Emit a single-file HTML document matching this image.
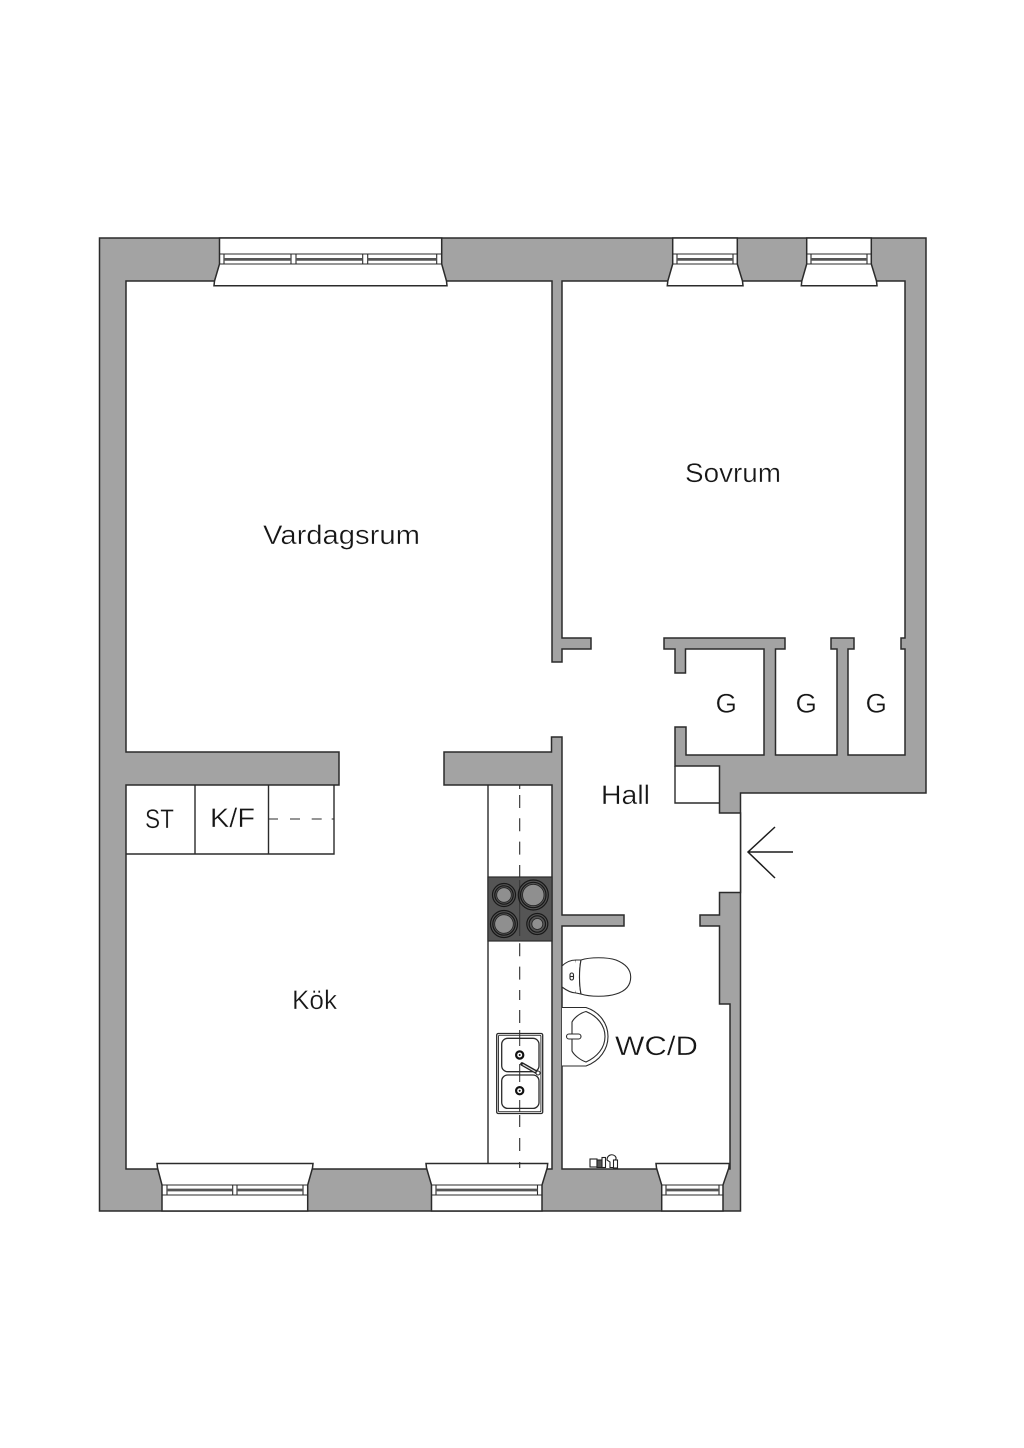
<!DOCTYPE html>
<html><head><meta charset="utf-8"><style>
html,body{margin:0;padding:0;background:#fff}
svg{display:block}
text{font-family:"Liberation Sans",sans-serif;font-size:27px;fill:#161616;stroke:#fff;stroke-width:.35;paint-order:normal}
</style></head><body>
<svg width="1024" height="1448" viewBox="0 0 1024 1448" xmlns="http://www.w3.org/2000/svg">
<rect width="1024" height="1448" fill="#fff"/>
<g stroke="#2b2b2b" stroke-width="1.5" stroke-linejoin="miter">
<path fill="#a3a3a3" d="M99.5 238H926V793H740.5V1211H99.5Z"/>
<path fill="#fff" d="M126 281H552V662H562V649H591V638H562V281H905V638H901V649H905V755H848V649H854V638H831V649H837V755H775.5V649H785V638H664V649H675V673H685.5V649H764V755H686V727H675V766H719.5V813H740.5V892.5H719.5V915H700V926H719.5V1004H730V1169H562V926H624V915H562V737H551.5V752H444V785H552V1169H126V785H339V752H126Z"/>
</g>
<!-- cabinets -->
<g fill="none" stroke="#2b2b2b" stroke-width="1.4">
<path d="M126 854H334V785M195 785V854M268.5 785V854"/>
<path d="M488 785V1165"/>
<path d="M675 766V803H719.5"/>
<path d="M268 819H278M290 819H300M311.7 819H321.7M331.7 819H334" stroke-width="1.1"/>
<path stroke-width="1.1" d="M519.7 785V789M519.7 795V808M519.7 818.3V831.3M519.7 841.6V854.6M519.7 865V877M519.7 943.3V956.3M519.7 966.6V979.6M519.7 990V1000M519.7 1010V1023M519.7 1115V1127M519.7 1138V1151"/>
</g>
<!-- stove -->
<rect x="488" y="877" width="64" height="64" fill="#555" stroke="#2b2b2b" stroke-width="1.2"/>
<path d="M519.7 880V936" stroke="#333" stroke-width="1"/>
<g fill="none" stroke="#181818" stroke-width="1.2">
<circle cx="504" cy="895" r="11.5"/><circle cx="504" cy="895" r="9.2"/>
<circle cx="533.3" cy="895" r="15"/><circle cx="533.3" cy="895" r="12.7"/>
<circle cx="504" cy="924" r="13.5"/><circle cx="504" cy="924" r="11.2"/>
<circle cx="537.3" cy="924" r="10.5"/><circle cx="537.3" cy="924" r="8.2"/>
</g>
<g fill="#8f8f8f" stroke="#222" stroke-width=".8">
<circle cx="504" cy="895" r="7.3"/>
<circle cx="533.3" cy="895" r="10.7"/>
<circle cx="504" cy="924" r="9.3"/>
<circle cx="537.3" cy="924" r="5.5"/>
</g>
<!-- sink -->
<g fill="#fff" stroke="#2b2b2b" stroke-width="1.3">
<rect x="496.7" y="1033.5" width="46" height="80" rx="1.5"/>
<rect x="498.5" y="1035.3" width="42.4" height="76.4" rx="1" stroke-width=".9"/>
<rect x="501.7" y="1038.3" width="37.3" height="33.4" rx="6"/>
<rect x="501.7" y="1075" width="37.3" height="33.4" rx="6"/>
</g>
<path d="M519.7 1030V1046M519.7 1064V1082M519.7 1100V1112" stroke="#2b2b2b" stroke-width="1" fill="none"/>
<g fill="#fff" stroke="#111" stroke-width="2.2"><circle cx="519.7" cy="1055" r="3.6"/><circle cx="519.7" cy="1090.7" r="3.6"/></g>
<circle cx="519.7" cy="1055" r="1" fill="#111"/><circle cx="519.7" cy="1090.7" r="1" fill="#111"/>
<path d="M522 1064L537 1072.5" stroke="#222" stroke-width="3.6" stroke-linecap="round"/>
<path d="M523 1064.600L535 1071.500" stroke="#ddd" stroke-width="1.100" stroke-linecap="round"/>
<circle cx="538" cy="1073" r="2" fill="#fff" stroke="#222" stroke-width="1"/>
<!-- toilet -->
<g fill="#fff" stroke="#2b2b2b" stroke-width="1.1">
<path d="M562 966C566 962 571 960 576 960C578 970 578 984 576 993C571 993 566 990 562 987Z"/>
<path d="M576 960L581 960C579 970 579 984 581 994L576 993"/>
<path d="M581 960C590 957 607 957 616 960C626 964 630.7 970 630.7 977C630.7 985 626 991 616 994C607 997 590 997 581 994C579 984 579 970 581 960Z"/>
<rect x="570" y="973" width="3.500" height="7" rx="1.700"/>
<path d="M570 976.500H573.500"/>
</g>
<!-- basin -->
<g fill="#fff" stroke="#2b2b2b" stroke-width="1.1">
<path d="M562 1007.500H586C600 1012 608 1024 608 1036.500C608 1049 600 1061 586 1066H562"/>
<path d="M572 1022C574 1018 580 1013 586 1011.500C597 1016 605 1025 605 1036.500C605 1048 597 1057 586 1062C580 1060 574 1055 572 1051Z"/>
<rect x="566.500" y="1034" width="14.500" height="5" rx="2.500"/>
</g>
<!-- taps -->
<g fill="#fff" stroke="#222" stroke-width="1.100">
<rect x="590" y="1159" width="7" height="8"/>
<rect x="597" y="1160" width="8" height="7.500" fill="#555"/>
<rect x="602" y="1157.500" width="3.500" height="10"/>
<path d="M607 1160C607 1155 612 1153.500 615 1156C617 1158 616 1160 614 1161V1167.500H610V1162Z"/>
<rect x="613.500" y="1160" width="4" height="8"/>
</g>
<!-- windows top -->
<g fill="#fff" stroke="#2b2b2b" stroke-width="1.5">
<path d="M219.500 238V264L214.500 281L214 285.700H447L446.500 281L441.700 264V238Z"/>
<path d="M672.700 238V264L667.800 281L667.300 285.700H743L742.500 281L737.300 264V238Z"/>
<path d="M806.700 238V264L801.800 281L801.300 285.700H877L876.500 281L871.300 264V238Z"/>
</g>
<g fill="none" stroke="#2b2b2b" stroke-width="1.100">
<path d="M219.500 254H441.700M219.500 264H441.700M224 254V264M291 254V264M296 254V264M362.700 254V264M367.700 254V264M436.700 254V264"/>
<path d="M672.700 254H737.300M672.700 264H737.300M677 254V264M733 254V264"/>
<path d="M806.700 254H871.300M806.700 264H871.300M811 254V264M867 254V264"/>
</g>
<g stroke="#555" stroke-width="2.800" fill="none">
<path d="M224 259.400H291M296 259.400H362.700M367.700 259.400H436.700M677 259.400H733M811 259.400H867"/>
</g>
<!-- windows bottom -->
<g fill="#fff" stroke="#2b2b2b" stroke-width="1.500">
<path d="M162 1211V1185L157.500 1168L157 1163.500H313L312.500 1168L307.700 1185V1211Z"/>
<path d="M431.500 1211V1185L426.500 1168L426 1163.500H547.700L547.200 1168L542 1185V1211Z"/>
<path d="M661.700 1211V1185L656.500 1168L656 1163.500H729.300L728.800 1168L723 1185V1211Z"/>
</g>
<path d="M519.700 1162V1168" stroke="#2b2b2b" stroke-width="1.100" fill="none"/>
<g fill="none" stroke="#2b2b2b" stroke-width="1.100">
<path d="M162 1185H307.700M162 1195H307.700M167 1185V1195M232.700 1185V1195M237 1185V1195M303 1185V1195"/>
<path d="M431.500 1185H542M431.500 1195H542M436 1185V1195M537.500 1185V1195"/>
<path d="M661.700 1185H723M661.700 1195H723M666 1185V1195M719 1185V1195"/>
</g>
<g stroke="#555" stroke-width="2.800" fill="none">
<path d="M167 1190H232.700M237 1190H303M436 1190H537.500M666 1190H719"/>
</g>
<!-- arrow -->
<path d="M793 852H748M775 827L748 852L775 878" fill="none" stroke="#1c1c1c" stroke-width="1.500"/>
<!-- labels -->
<text x="263" y="544" textLength="157" lengthAdjust="spacingAndGlyphs">Vardagsrum</text>
<text x="685" y="482" textLength="96" lengthAdjust="spacingAndGlyphs">Sovrum</text>
<text x="601" y="804" textLength="49" lengthAdjust="spacingAndGlyphs">Hall</text>
<text x="292" y="1009" textLength="45" lengthAdjust="spacingAndGlyphs">Kök</text>
<text x="615" y="1055" textLength="83" lengthAdjust="spacingAndGlyphs">WC/D</text>
<text x="145" y="828" textLength="29" lengthAdjust="spacingAndGlyphs">ST</text>
<text x="210" y="827" textLength="45" lengthAdjust="spacingAndGlyphs">K/F</text>
<text x="715.500" y="712.500" textLength="21.500" lengthAdjust="spacingAndGlyphs">G</text>
<text x="795.500" y="712.500" textLength="21.500" lengthAdjust="spacingAndGlyphs">G</text>
<text x="865.500" y="712.500" textLength="21.500" lengthAdjust="spacingAndGlyphs">G</text>
</svg>
</body></html>
